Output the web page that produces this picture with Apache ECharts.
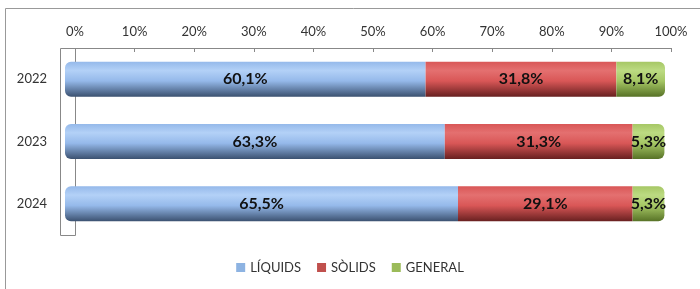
<!DOCTYPE html>
<html>
<head>
<meta charset="utf-8">
<title>Residus</title>
<script src="https://cdn.jsdelivr.net/npm/echarts@6/dist/echarts.min.js"></script>
<style>
html, body { margin: 0; padding: 0; background: #fff; }
#chart { width: 700px; height: 289px; }
</style>
</head>
<body>
<div id="chart"></div>
<script>
var years = ['2022', '2023', '2024'];
var liquids = [60.1, 63.3, 65.5];
var solids = [31.8, 31.3, 29.1];
var general = [8.1, 5.3, 5.3];
var names = ['LÍQUIDS', 'SÒLIDS', 'GENERAL'];

// cylinder look: light band near the top, dark at the bottom
function cyl(top, light, bottom) {
    return new echarts.graphic.LinearGradient(0, 0, 0, 1, [
        { offset: 0, color: top },
        { offset: 0.25, color: light },
        { offset: 0.55, color: top },
        { offset: 1, color: bottom }
    ]);
}

var lbl = { show: true, position: 'inside', color: '#111', fontSize: 16, fontWeight: 'bold',
    fontFamily: 'Lato', formatter: function (p) { return p.value.toFixed(1).replace('.', ',') + '%'; } };

var myChart = echarts.init(document.getElementById('chart'));
var option = {
    animation: false,
    textStyle: { fontFamily: 'Lato' },
    graphic: [
        { type: 'rect', shape: { x: 5.5, y: 8.5, width: 700, height: 300 }, style: { fill: 'none', stroke: '#999', lineWidth: 1 } },
        { type: 'rect', shape: { x: 60.5, y: 48.5, width: 15, height: 187 }, style: { fill: 'none', stroke: '#888', lineWidth: 1 }, z: 0 }
    ],
    legend: {
        bottom: 10, left: 'center', itemWidth: 9, itemHeight: 9, itemGap: 16, icon: 'rect',
        textStyle: { color: '#333', fontSize: 13, fontFamily: 'Lato' },
        data: [
            { name: names[0], itemStyle: { color: '#8db3e2' } },
            { name: names[1], itemStyle: { color: '#c0504d' } },
            { name: names[2], itemStyle: { color: '#9bbb59' } }
        ]
    },
    grid: [
        { left: 65, width: 600, top: 48, height: 187 },
        { left: 75, width: 596, top: 48, height: 187 }
    ],
    xAxis: [
        { gridIndex: 0, type: 'value', min: 0, max: 100, show: false },
        { gridIndex: 1, type: 'value', min: 0, max: 100, interval: 10, position: 'top',
          axisLine: { show: true, lineStyle: { color: '#888' } },
          axisTick: { show: true, inside: true, length: 4, lineStyle: { color: '#888' } },
          splitLine: { show: false },
          axisLabel: { color: '#333', fontSize: 13, margin: 10, formatter: '{value}%' } }
    ],
    yAxis: [
        { gridIndex: 0, type: 'category', data: years, inverse: true,
          axisLine: { show: false }, axisTick: { show: false },
          axisLabel: { color: '#333', fontSize: 13, margin: 18 } },
        { gridIndex: 1, type: 'category', data: years, show: false }
    ],
    series: [
        { name: names[0], type: 'bar', stack: 't', data: liquids, barWidth: 35,
          itemStyle: { color: cyl('#95b9ea', '#b3d1f7', '#3b5170'), borderRadius: [6, 0, 0, 6] },
          label: lbl },
        { name: names[1], type: 'bar', stack: 't', data: solids, barWidth: 35,
          itemStyle: { color: cyl('#d95757', '#e47070', '#682020') },
          label: lbl },
        { name: names[2], type: 'bar', stack: 't', data: general, barWidth: 35,
          itemStyle: { color: cyl('#a6c765', '#bcdb82', '#577226'), borderRadius: [0, 6, 6, 0] },
          label: lbl }
    ]
};
myChart.setOption(option);
</script>
</body>
</html>
